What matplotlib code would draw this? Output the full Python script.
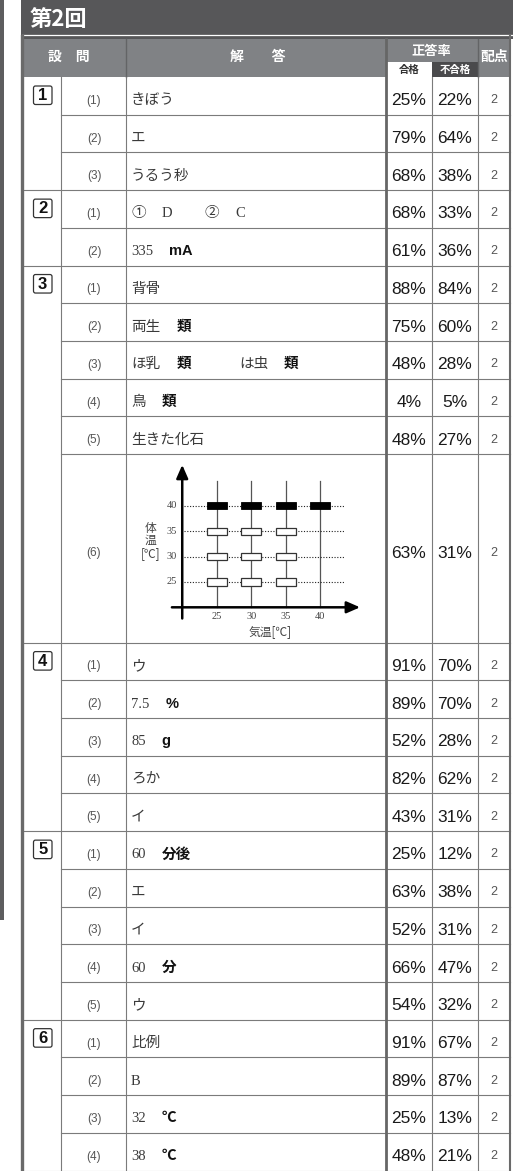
import re
import matplotlib
matplotlib.use('Agg')
import matplotlib.pyplot as plt
from matplotlib.patches import Rectangle, FancyBboxPatch

JP = 'Noto Sans CJK JP'
plt.rcParams['font.family'] = ['Liberation Sans', JP, 'DejaVu Sans']

# table data ------------------------------------------------------------
title = '第2回'
q_nums = [1, 1, 1, 2, 2, 3, 3, 3, 3, 3, 3, 4, 4, 4, 4, 4, 5, 5, 5, 5, 5, 6, 6, 6, 6]
sub_nums = ['(1)', '(2)', '(3)', '(1)', '(2)', '(1)', '(2)', '(3)', '(4)', '(5)', '(6)',
            '(1)', '(2)', '(3)', '(4)', '(5)', '(1)', '(2)', '(3)', '(4)', '(5)',
            '(1)', '(2)', '(3)', '(4)']
# *...* = bold unit, None = answer is the small chart
answers = ['きぼう', 'エ', 'うるう秒', '①　D　　②　C', '335　*mA*',
           '背骨', '両生　*類*', 'ほ乳　*類*　　　は虫　*類*', '鳥　*類*', '生きた化石', None,
           'ウ', '7.5　*%*', '85　*g*', 'ろか', 'イ',
           '60　*分後*', 'エ', 'イ', '60　*分*', 'ウ',
           '比例', 'B', '32　*℃*', '38　*℃*']
pass_rate = [25, 79, 68, 68, 61, 88, 75, 48, 4, 48, 63, 91, 89, 52, 82, 43,
             25, 63, 52, 66, 54, 91, 89, 25, 48]
fail_rate = [22, 64, 38, 33, 36, 84, 60, 28, 5, 27, 31, 70, 70, 28, 62, 31,
             12, 38, 31, 47, 32, 67, 87, 13, 21]
points = [2, 2, 2, 2, 2, 2, 2, 2, 2, 2, 2, 2, 2, 2, 2, 2, 2, 2, 2, 2, 2, 2, 2, 2, 2]

# chart in 3(6)
air_ticks = [25, 30, 35, 40]
body_ticks = [25, 30, 35, 40]
filled_x = [25, 30, 35, 40]
filled_y = [40, 40, 40, 40]
open_x = [25, 25, 25, 30, 30, 30, 35, 35, 35]
open_y = [35, 30, 25, 35, 30, 25, 35, 30, 25]

# layout (pixels) -------------------------------------------------------
W, H = 522, 1171
X0, XS, XQ, XP, XF, XD, X1 = 22, 61, 126, 386, 432, 478, 510
HEAD_TOP, BODY_TOP, BODY_BOT = 38.5, 77, 1170.5
units = [5 if a is None else 1 for a in answers]
rh = (BODY_BOT - BODY_TOP) / sum(units)
tops = [BODY_TOP]
for u in units:
    tops.append(tops[-1] + u * rh)

LINE = '#7b7b7b'
fig = plt.figure(figsize=(W / 100, H / 100), dpi=100)
ax = fig.add_axes([0, 0, 1, 1])
ax.set_xlim(0, W)
ax.set_ylim(H, 0)
ax.axis('off')
renderer = fig.canvas.get_renderer()

# left page strip
ax.add_patch(Rectangle((0, 0), 3.5, 920, color='#5d5d5f', lw=0))

# title band
ax.add_patch(Rectangle((21, 0), 492, HEAD_TOP, color='#575759', lw=0))
ax.plot([22, 512], [35.3, 35.3], color='white', lw=0.9)
ax.text(30, 19, title, color='white', fontsize=16, fontweight='bold', family=JP,
        va='center', ha='left')

# column header
ax.add_patch(Rectangle((X0, HEAD_TOP), X1 - X0, BODY_TOP - HEAD_TOP, color='#808285', lw=0))
ax.add_patch(Rectangle((XP, 62), XF - XP, BODY_TOP - 62, color='white', lw=0))
ax.add_patch(Rectangle((XF, 62), XD - XF, BODY_TOP - 62, color='#4a4a4c', lw=0))
for x in [XQ, XD]:
    ax.plot([x, x], [HEAD_TOP, BODY_TOP], color='#636466', lw=1.0)
hdr = dict(color='white', fontweight='bold', family=JP, ha='center', va='center')
ax.text(69, 57, '設　問', fontsize=10, **hdr)
ax.text(258, 57, '解　　答', fontsize=10, **hdr)
ax.text(431, 51, '正答率', fontsize=9.5, **hdr)
ax.text(494, 57, '配点', fontsize=10, **hdr)
ax.text(409, 69.5, '合格', fontsize=7.5, color='#333333', fontweight='bold', family=JP,
        ha='center', va='center')
ax.text(455, 69.5, '不合格', fontsize=7.5, **hdr)

# grid lines
for i in range(len(answers)):
    if i > 0:
        xs = X0 if q_nums[i] != q_nums[i - 1] else XS
        ax.plot([xs, X1], [tops[i], tops[i]], color=LINE, lw=0.8)
ax.plot([X0, X1], [BODY_BOT, BODY_BOT], color='#aaaaaa', lw=0.8)
for x in [XS, XQ, XF, XD]:
    ax.plot([x, x], [BODY_TOP, H], color=LINE, lw=0.8)
ax.plot([XP, XP], [HEAD_TOP, H], color='#666666', lw=2.0)
ax.plot([X0, X0], [35.5, H], color='#6a6a6a', lw=2.4)
ax.plot([X1, X1], [35.5, H], color='#6a6a6a', lw=1.5)


def draw_answer(x, y, s):
    for tok in re.findall(r'　+|\*[^*]+\*|[^　*]+', s):
        if tok[0] == '　':
            x += len(tok) * 16
            continue
        if tok.startswith('*'):
            t = ax.text(x, y, tok.strip('*'), fontsize=10.5, fontweight='bold',
                        family=['Liberation Sans', JP], color='#111111', va='baseline')
        else:
            t = ax.text(x, y, tok, fontsize=10.5, family=['Liberation Serif', JP],
                        color='#3a3a3a', va='baseline')
        bb = t.get_window_extent(renderer)
        x = ax.transData.inverted().transform((bb.x1, bb.y0))[0]


# rows
for i in range(len(answers)):
    mid = (tops[i] + tops[i + 1]) / 2
    if i == 0 or q_nums[i] != q_nums[i - 1]:
        ax.add_patch(FancyBboxPatch((33.5, tops[i] + 9), 18.5, 18.5,
                                    boxstyle='round,pad=0,rounding_size=2',
                                    fc='white', ec='#333333', lw=0.9))
        ax.text(42.75, tops[i] + 18.7, str(q_nums[i]), fontsize=12, fontweight='bold',
                ha='center', va='center', color='#111111')
    ax.text(94, mid + 8, sub_nums[i], fontsize=8.5, color='#555555',
            ha='center', va='baseline')
    if answers[i] is not None:
        draw_answer(131, mid + 8.5, answers[i])
    ax.text((XP + XF) / 2, mid + 9.5, f'{pass_rate[i]}%', fontsize=12.5,
            color='#1a1a1a', ha='center', va='baseline')
    ax.text((XF + XD) / 2, mid + 9.5, f'{fail_rate[i]}%', fontsize=12.5,
            color='#1a1a1a', ha='center', va='baseline')
    ax.text((XD + X1) / 2, mid + 7.5, str(points[i]), fontsize=9,
            color='#555555', ha='center', va='baseline')

# small chart inside 3(6) -------------------------------------------------
xl, yl = (12, 47), (13, 49)
px_left, px_top, px_w, px_h = 127.1, 460.3, 241.2, 182.5
cax = fig.add_axes([px_left / W, 1 - (px_top + px_h) / H, px_w / W, px_h / H])
cax.set_xlim(*xl)
cax.set_ylim(*yl)
cax.axis('off')
cax.patch.set_alpha(0)

for x in air_ticks:
    cax.plot([x, x], [20, 45], color='#555555', lw=0.9, zorder=1)
for y in body_ticks:
    cax.plot([20.2, 43.6], [y, y], color='#222222', lw=0.8, ls=(0, (1, 1.5)), zorder=1)
bw, bh = 2.9, 1.4
for x, y in zip(filled_x, filled_y):
    cax.add_patch(Rectangle((x - bw / 2, y - bh / 2), bw, bh, fc='black', ec='black',
                            lw=0.6, zorder=3))
for x, y in zip(open_x, open_y):
    cax.add_patch(Rectangle((x - bw / 2, y - bh / 2), bw, bh, fc='white', ec='#333333',
                            lw=0.9, zorder=3))
arrow = dict(arrowstyle='-|>,head_length=0.8,head_width=0.35', color='black', lw=1.8,
             shrinkA=0, shrinkB=0)
cax.annotate('', xy=(45.8, 20), xytext=(18.5, 20), arrowprops=arrow, zorder=4)
cax.annotate('', xy=(20, 48.1), xytext=(20, 17.8), arrowprops=arrow, zorder=4)

tick = dict(fontsize=7.5, color='#444444', family=['Liberation Serif', JP])
for y in body_ticks:
    cax.text(19.2, y, str(y), ha='right', va='center', **tick)
for x in air_ticks:
    cax.text(x, 18.2, str(x), ha='center', va='center', **tick)
lab = dict(fontsize=8.5, color='#444444', family=JP, ha='center', va='center')
cax.text(15.4, 35.5, '体', **lab)
cax.text(15.4, 33.2, '温', **lab)
cax.text(15.4, 30.7, '[℃]', **lab)
cax.text(32.7, 15.2, '気温[℃]', **lab)

fig.savefig('out.png', dpi=100)
